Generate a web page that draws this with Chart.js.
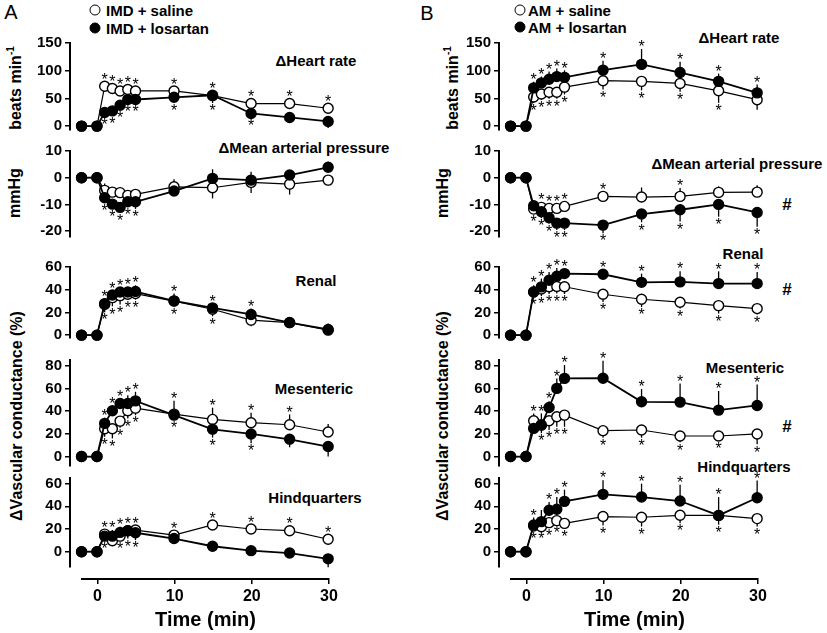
<!DOCTYPE html>
<html>
<head>
<meta charset="utf-8">
<script src="https://cdn.jsdelivr.net/npm/chart.js@4.4.1/dist/chart.umd.min.js"></script>
<style>
  body { margin: 0; background: #fff; width: 827px; height: 633px; position: relative; overflow: hidden;
         font-family: "Liberation Sans", Arial, sans-serif; color: #000; }
  canvas { position: absolute; }
  .t { position: absolute; font-weight: bold; font-size: 15px; white-space: nowrap; transform: translate(-50%, -50%); }
  .v { position: absolute; font-weight: bold; font-size: 16px; white-space: nowrap; transform: translate(-50%, -50%) rotate(-90deg); }
  .v sup { font-size: 10px; }
  .lg { position: absolute; font-weight: bold; font-size: 15px; white-space: nowrap; transform: translateY(-50%); }
  .dot { position: absolute; width: 9px; height: 9px; border-radius: 50%; border: 1.5px solid #000; transform: translate(-50%, -50%); }
  .big { position: absolute; font-size: 20px; transform: translate(-50%, -50%); }
</style>
</head>
<body>
<div class="big" style="left:11px;top:12px">A</div>
<div class="big" style="left:427px;top:13px">B</div>

<div class="dot" style="left:95px;top:10px;background:#fff"></div>
<div class="lg" style="left:106px;top:10px">IMD + saline</div>
<div class="dot" style="left:95px;top:28px;background:#000"></div>
<div class="lg" style="left:106px;top:28px">IMD + losartan</div>
<div class="dot" style="left:520px;top:10px;background:#fff"></div>
<div class="lg" style="left:528px;top:10px">AM + saline</div>
<div class="dot" style="left:520px;top:27px;background:#000"></div>
<div class="lg" style="left:528px;top:27px">AM + losartan</div>

<div class="v" style="left:15px;top:88px">beats min<sup>-1</sup></div>
<div class="v" style="left:15px;top:193px">mmHg</div>
<div class="v" style="left:17px;top:416px">ΔVascular conductance (%)</div>
<div class="v" style="left:452px;top:88px">beats min<sup>-1</sup></div>
<div class="v" style="left:443px;top:193px">mmHg</div>
<div class="v" style="left:443px;top:416px">ΔVascular conductance (%)</div>

<div class="t" style="left:316px;top:60px">ΔHeart rate</div>
<div class="t" style="left:304px;top:147px">ΔMean arterial pressure</div>
<div class="t" style="left:316px;top:280px">Renal</div>
<div class="t" style="left:314px;top:388px">Mesenteric</div>
<div class="t" style="left:315px;top:497px">Hindquarters</div>
<div class="t" style="left:739px;top:37px">ΔHeart rate</div>
<div class="t" style="left:737px;top:163px">ΔMean arterial pressure</div>
<div class="t" style="left:743px;top:253px">Renal</div>
<div class="t" style="left:745px;top:367px">Mesenteric</div>
<div class="t" style="left:744px;top:466px">Hindquarters</div>
<div class="t" style="left:787px;top:205px;font-size:17px">#</div>
<div class="t" style="left:787px;top:290px;font-size:17px">#</div>
<div class="t" style="left:787px;top:427px;font-size:17px">#</div>

<script>
const times = [-2, 0, 1, 2, 3, 4, 5, 10, 15, 20, 25, 30];
const timeTicks = [0, 10, 20, 30];
const hrTicks = [0, 50, 100, 150];
const mapTicks = [-20, -10, 0, 10];
const renTicks = [0, 20, 40, 60];
const mesTicks = [0, 20, 40, 60, 80];
const hinTicks = [0, 20, 40, 60];

// A: IMD. err = SEM bar (sign gives direction), sig = asterisk above (1) / below (-1)
const aHrSal = [0, 0, 72, 68, 63.5, 66, 63.5, 63.5, 55, 40.7, 40.7, 32.3];
const aHrSalErr = [0, 0, 3, 3, 4, 4, 4, 4, 2, 2, 3, 3];
const aHrSalSig = [0, 0, 1, 1, 1, 1, 1, 1, 1, 1, 1, 1];
const aHrLos = [0, 0, 24.5, 27.5, 37.7, 47.9, 48, 52, 55.7, 22.8, 15.6, 8.4];
const aHrLosErr = [0, 0, -4, -4, -6, -6, -6, -10, -14, -3, -6, -12];
const aHrLosSig = [0, 0, -1, -1, -1, -1, -1, -1, -1, -1, 0, 0];

const aMapSal = [0, 0, -4.75, -5.4, -5.6, -6.6, -6.25, -3.4, -3.75, -1.75, -2.4, -0.9];
const aMapSalErr = [0, 0, 2.6, 1.5, 1.5, 1.5, 1.9, 2.8, -4, -4, -3.9, -1.9];
const aMapSalSig = [0, 0, 0, 0, 0, 0, 0, 0, 0, 0, 0, 0];
const aMapLos = [0, 0, -7.5, -9.9, -11.1, -9, -9, -5, -0.25, -0.9, 1, 3.9];
const aMapLosErr = [0, 0, -1.9, -1.4, -1.9, -1.9, -2.7, -1.5, 3.4, 3.1, 1.9, 2.1];
const aMapLosSig = [0, 0, -1, -1, -1, -1, -1, 0, 0, 0, 0, 0];

const aRenSal = [0, 0, 27, 33, 34.8, 36, 36.6, 30, 22.8, 13.2, 11, 4.4];
const aRenSalErr = [0, 0, -6.8, -7.6, -7.9, -4.7, -5.3, -4.7, -6.2, -5.3, -2, -2];
const aRenSalSig = [0, 0, -1, -1, -1, -1, -1, -1, -1, 0, 0, 0];
const aRenLos = [0, 0, 27.8, 35.4, 38, 38, 38.4, 30.2, 24, 18.2, 11.1, 5];
const aRenLosErr = [0, 0, 2.9, 2.6, 3.5, 4.7, 5.5, 6.4, 3.8, 5.3, 2.6, 5.3];
const aRenLosSig = [0, 0, 1, 1, 1, 1, 1, 1, 1, 1, 0, 0];

const aMesSal = [0, 0, 24.5, 24.5, 31.2, 40.3, 42.6, 37.4, 32.7, 29.8, 28, 21.6];
const aMesSalErr = [0, 0, -7, -8.5, -5.9, -6.8, -6.2, -5.3, 10.3, 8.8, 9.1, 7];
const aMesSalSig = [0, 0, -1, -1, -1, -1, -1, -1, 1, 1, 1, 0];
const aMesLos = [0, 0, 29.2, 40.3, 46.7, 46.7, 49, 36.5, 24, 19.9, 15.2, 8.8];
const aMesLosErr = [0, 0, 5, 3.5, 3.8, 7.3, 8, 12.6, -7.3, -8.2, -7, -8.8];
const aMesLosSig = [0, 0, 1, 1, 1, 1, 1, 1, -1, -1, 0, 0];

const aHinSal = [0, 0, 15.5, 9.6, 13.7, 18.5, 19.1, 14.6, 23.6, 20, 18.5, 11];
const aHinSalErr = [0, 0, 3.5, 9.5, -4.4, -6.8, 2, 3, 3, 3.5, 4.7, 3.5];
const aHinSalSig = [0, 0, 1, 1, -1, -1, 1, 1, 1, 1, 1, 1];
const aHinLos = [0, 0, 13.7, 13.7, 17, 18.5, 16.7, 11.6, 4.8, 0.9, -1.2, -6.3];
const aHinLosErr = [0, 0, -4.4, 2, 5, 3.8, -6.5, -2, -1.5, -3, -4, -7.4];
const aHinLosSig = [0, 0, -1, 0, 1, 1, -1, 0, 0, 0, 0, 0];

// B: AM
const bHrSal = [0, 0, 52.6, 58, 61, 61, 70.4, 82, 80.8, 77, 63.7, 47.7];
const bHrSalErr = [0, 0, -11, -10.3, -11.5, -11.5, -13.3, -15.8, -16.3, -15, -21.8, -18];
const bHrSalSig = [0, 0, -1, -1, -1, -1, -1, -1, -1, -1, -1, 0];
const bHrLos = [0, 0, 69, 78, 84.5, 89.4, 88, 101, 111.4, 96.7, 80.8, 60];
const bHrLosErr = [0, 0, 11, 11.5, 14, 14.5, 12.7, 17, 27.8, 19.4, 14, 15];
const bHrLosSig = [0, 0, 1, 1, 1, 1, 1, 1, 1, 1, 1, 1];

const bMapSal = [0, 0, -11.75, -11.1, -11.5, -11.5, -10.75, -7, -7.25, -7, -5.5, -5.4];
const bMapSalErr = [0, 0, 1, 1.9, 1.9, 1.9, 1.9, 1.9, 3.6, 3.1, 2.25, 2.6];
const bMapSalSig = [0, 0, 0, 1, 1, 1, 1, 1, 0, 1, 0, 0];
const bMapLos = [0, 0, -10.5, -12.75, -15, -17, -17, -17.75, -13.6, -12, -10, -13];
const bMapLosErr = [0, 0, -3.1, -2.4, -2.1, -2.6, -2.6, -3, -3.1, -4.4, -4.6, -5.4];
const bMapLosSig = [0, 0, -1, -1, -1, -1, -1, -1, -1, -1, -1, -1];

const bRenSal = [0, 0, 38, 40.6, 42.6, 42.9, 42.6, 36, 31.6, 29, 26, 23.4];
const bRenSalErr = [0, 0, -3.8, -6.2, -6.4, -6.2, -6.4, -6.8, -6.8, -5.5, -7, -5.3];
const bRenSalSig = [0, 0, -1, -1, -1, -1, -1, -1, -1, -1, -1, -1];
const bRenLos = [0, 0, 38, 42.5, 48.4, 51.8, 54.2, 53.6, 46.5, 46.9, 45.4, 45.4];
const bRenLosErr = [0, 0, 5.9, 7.3, 7.3, 7.3, 1.8, 1.8, 7.6, 9.4, 10.8, 10.3];
const bRenLosSig = [0, 0, 1, 1, 1, 1, 1, 1, 1, 1, 1, 1];

const bMesSal = [0, 0, 31.5, 28, 31.5, 35, 36.5, 22.8, 23.4, 18.1, 18.1, 19.9];
const bMesSalErr = [0, 0, 6.5, -7.4, -8.2, -8.8, -10.3, -6.2, -6.8, -5.6, -4.4, -9.1];
const bMesSalSig = [0, 0, 1, -1, -1, -1, -1, -1, -1, -1, -1, -1];
const bMesLos = [0, 0, 24.8, 27.7, 43.2, 60, 68.8, 69, 48.2, 47.9, 40.9, 45];
const bMesLosErr = [0, 0, -3, 10.3, 5.6, 8.8, 11.8, 15.3, 11.2, 16.5, 16.8, 18.5];
const bMesLosSig = [0, 0, 0, 1, 1, 1, 1, 1, 1, 1, 1, 1];

const bHinSal = [0, 0, 22.7, 22, 25.6, 27.4, 25, 31, 30.4, 32.1, 32, 29.2];
const bHinSalErr = [0, 0, -3.5, -2.9, -4.4, -2.4, -5, -7.9, -8.2, -7, -8.2, -7];
const bHinSalSig = [0, 0, -1, -1, -1, -1, -1, -1, -1, -1, -1, -1];
const bHinLos = [0, 0, 23.6, 26.5, 36.5, 37.4, 44.4, 50.6, 48.2, 44.7, 32, 47.6];
const bHinLosErr = [0, 0, 6.5, 10.3, 7.4, 10.9, 10.3, 12.4, 11.8, 14.4, 16.2, 15.3];
const bHinLosSig = [0, 0, 1, 0, 1, 1, 1, 1, 1, 1, 1, 1];

const FONT = '"Liberation Sans", Arial, sans-serif';

// SEM bars under the markers, asterisks on top
const errStars = {
  id: 'errStars',
  beforeDatasetsDraw(chart) {
    const { ctx, scales: { x, y } } = chart;
    ctx.save();
    ctx.strokeStyle = '#000';
    ctx.lineWidth = 1.3;
    chart.data.datasets.forEach(ds => {
      ds.err.forEach((e, i) => {
        if (!e) return;
        const px = x.getPixelForValue(times[i]);
        ctx.beginPath();
        ctx.moveTo(px, y.getPixelForValue(ds.vals[i]));
        ctx.lineTo(px, y.getPixelForValue(ds.vals[i] + e));
        ctx.stroke();
      });
    });
    ctx.restore();
  },
  afterDatasetsDraw(chart) {
    const { ctx, scales: { x, y } } = chart;
    ctx.save();
    ctx.fillStyle = '#000';
    ctx.font = '16px ' + FONT;
    ctx.textAlign = 'center';
    ctx.textBaseline = 'middle';
    chart.data.datasets.forEach(ds => {
      ds.sig.forEach((s, i) => {
        if (!s) return;
        const v = ds.vals[i], e = ds.err[i];
        const same = (s > 0 && e > 0) || (s < 0 && e < 0) ? e : 0;
        const p0 = y.getPixelForValue(v);
        const d = Math.abs(y.getPixelForValue(v + same) - p0);
        const off = Math.max(d + 5, 9.5);
        ctx.fillText('*', x.getPixelForValue(times[i]), p0 - s * off + 3.8);
      });
    });
    ctx.restore();
  }
};

function series(vals, err, sig, filled) {
  return {
    data: vals.map((v, i) => ({ x: times[i], y: v })),
    vals, err, sig,
    borderColor: '#000',
    borderWidth: filled ? 1.8 : 1.2,
    pointRadius: 5,
    pointBorderWidth: 1.4,
    pointBorderColor: '#000',
    pointBackgroundColor: filled ? '#000' : '#fff',
    clip: false,
  };
}

const PAD = 30;
function panel(axisX, top, bottom, min, max, ticks, sal, salErr, salSig, los, losErr, losSig) {
  const c = document.createElement('canvas');
  const w = 50 + 262 + PAD, h = bottom - top + 2 * PAD;
  c.width = w; c.height = h;
  c.style.left = (axisX - 50) + 'px';
  c.style.top = (top - PAD) + 'px';
  document.body.appendChild(c);
  new Chart(c, {
    type: 'line',
    data: { datasets: [series(los, losErr, losSig, true), series(sal, salErr, salSig, false)] },
    options: {
      responsive: false,
      animation: false,
      layout: { padding: { top: PAD, bottom: PAD, left: 0, right: PAD } },
      plugins: { legend: { display: false }, tooltip: { enabled: false } },
      scales: {
        x: { type: 'linear', min: -3.5, max: 30.5, display: false },
        y: {
          min, max,
          afterBuildTicks: s => { s.ticks = ticks.map(v => ({ value: v })); },
          afterFit: s => { s.width = 50; },
          border: { color: '#000', width: 2 },
          grid: { drawOnChartArea: false, tickLength: 5, color: '#000', lineWidth: 1.5 },
          ticks: { color: '#000', padding: 3, font: { family: FONT, size: 15, weight: 'bold' } },
        },
      },
    },
    plugins: [errStars],
  });
}

function timeAxis(left) {
  const c = document.createElement('canvas');
  c.width = 287; c.height = 62;
  c.style.left = left + 'px';
  c.style.top = '573px';
  document.body.appendChild(c);
  new Chart(c, {
    type: 'line',
    data: { datasets: [] },
    options: {
      responsive: false,
      animation: false,
      layout: { padding: { top: 0, bottom: 0, left: 20, right: 20 } },
      plugins: { legend: { display: false }, tooltip: { enabled: false } },
      scales: {
        y: { display: false, min: 0, max: 1 },
        x: {
          type: 'linear', min: -2, max: 30,
          afterBuildTicks: s => { s.ticks = timeTicks.map(v => ({ value: v })); },
          afterFit: s => { s.height = 56; },
          border: { color: '#000', width: 2 },
          grid: { drawOnChartArea: false, tickLength: 5, color: '#000', lineWidth: 1.5 },
          ticks: { color: '#000', padding: 3, maxRotation: 0, font: { family: FONT, size: 16, weight: 'bold' } },
          title: { display: true, text: 'Time (min)', color: '#000', padding: { top: 4, bottom: 3 },
                   font: { family: FONT, size: 20, weight: 'bold' } },
        },
      },
    },
  });
}

const L = 70, R = 499;
panel(L, 43, 130, -7, 150, hrTicks, aHrSal, aHrSalErr, aHrSalSig, aHrLos, aHrLosErr, aHrLosSig);
panel(L, 151, 237, -22.2, 10, mapTicks, aMapSal, aMapSalErr, aMapSalSig, aMapLos, aMapLosErr, aMapLosSig);
panel(L, 267, 338, -2.5, 60, renTicks, aRenSal, aRenSalErr, aRenSalSig, aRenLos, aRenLosErr, aRenLosSig);
panel(L, 360, 466, -8.3, 85, mesTicks, aMesSal, aMesSalErr, aMesSalSig, aMesLos, aMesLosErr, aMesLosSig);
panel(L, 478, 567, -13.5, 65, hinTicks, aHinSal, aHinSalErr, aHinSalSig, aHinLos, aHinLosErr, aHinLosSig);

panel(R, 43, 130, -7, 150, hrTicks, bHrSal, bHrSalErr, bHrSalSig, bHrLos, bHrLosErr, bHrLosSig);
panel(R, 151, 237, -22.2, 10, mapTicks, bMapSal, bMapSalErr, bMapSalSig, bMapLos, bMapLosErr, bMapLosSig);
panel(R, 267, 338, -2.5, 60, renTicks, bRenSal, bRenSalErr, bRenSalSig, bRenLos, bRenLosErr, bRenLosSig);
panel(R, 360, 466, -8.3, 85, mesTicks, bMesSal, bMesSalErr, bMesSalSig, bMesLos, bMesLosErr, bMesLosSig);
panel(R, 478, 567, -13.5, 65, hinTicks, bHinSal, bHinSalErr, bHinSalSig, bHinLos, bHinLosErr, bHinLosSig);

timeAxis(62);
timeAxis(491);
</script>
</body>
</html>
